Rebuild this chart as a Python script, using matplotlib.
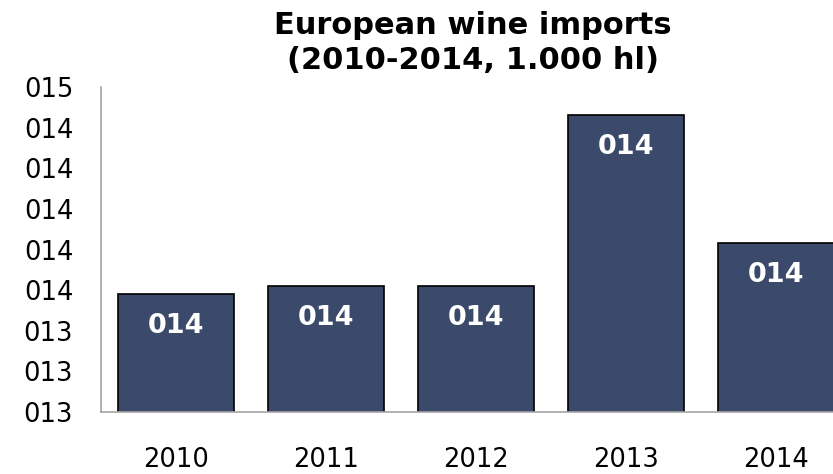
import matplotlib.pyplot as plt
from matplotlib.ticker import FuncFormatter

years = ['2010', '2011', '2012', '2013', '2014']
imports = [13.58, 13.62, 13.62, 14.46, 13.83]
y_ticks = [13.0, 13.2, 13.4, 13.6, 13.8, 14.0, 14.2, 14.4, 14.6]

plt.rcParams['font.family'] = ['DejaVu Sans']

fig = plt.figure(figsize=(8.33, 4.74), dpi=100)
# axes runs past the right edge like in the reference
ax = fig.add_axes([101/833, 1 - 412/474, 750/833, 325/474])

ax.bar(range(len(years)), imports, width=0.77, color='#3B4A6B',
       edgecolor='black', linewidth=1.2)
ax.set_ylim(13.0, 14.6)
ax.set_xlim(-0.5, 4.5)
ax.set_yticks(y_ticks)
ax.yaxis.set_major_formatter(FuncFormatter(lambda v, p: f"{v:03.0f}"))
ax.set_xticks(range(len(years)))
ax.set_xticklabels(years)
ax.tick_params(axis='y', length=0, pad=20, labelsize=18.5)
ax.tick_params(axis='x', length=0, pad=25, labelsize=18.5)

for s in ['top', 'right']:
    ax.spines[s].set_visible(False)
for s in ['left', 'bottom']:
    ax.spines[s].set_color('#A6A6A6')
    ax.spines[s].set_linewidth(1.2)

for i, v in enumerate(imports):
    ax.annotate(f"{v:03.0f}", (i, v), xytext=(0, -23), textcoords='offset points',
                ha='center', va='center', color='white', fontsize=19.5, fontweight='bold')

fig.text(473/833, 1 - 43/474, 'European wine imports\n(2010-2014, 1.000 hl)',
         ha='center', va='center', fontsize=22, fontweight='bold', linespacing=1.25)

fig.savefig('out.png', dpi=100)
